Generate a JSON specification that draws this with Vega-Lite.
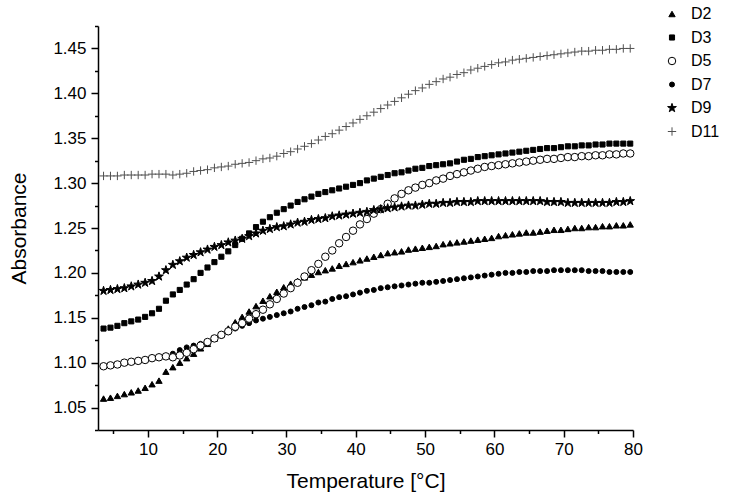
{
"$schema":"https://vega.github.io/schema/vega-lite/v6.json",
"width":535,"height":404,
"autosize":{"type":"none"},
"padding":{"left":98,"top":26,"right":100,"bottom":67},
"background":"white",
"config":{"view":{"stroke":null},"font":"Liberation Sans"},
"data":{"values":[
{"T":3.6,"S":"D2","A":1.060},{"T":4.6,"S":"D2","A":1.061},{"T":5.6,"S":"D2","A":1.063},{"T":6.6,"S":"D2","A":1.065},{"T":7.6,"S":"D2","A":1.067},{"T":8.6,"S":"D2","A":1.069},{"T":9.6,"S":"D2","A":1.072},{"T":10.6,"S":"D2","A":1.076},{"T":11.6,"S":"D2","A":1.080},{"T":12.6,"S":"D2","A":1.090},{"T":13.6,"S":"D2","A":1.095},{"T":14.6,"S":"D2","A":1.100},{"T":15.6,"S":"D2","A":1.105},{"T":16.6,"S":"D2","A":1.110},{"T":17.6,"S":"D2","A":1.116},{"T":18.6,"S":"D2","A":1.121},{"T":19.6,"S":"D2","A":1.127},{"T":20.6,"S":"D2","A":1.132},{"T":21.6,"S":"D2","A":1.138},{"T":22.6,"S":"D2","A":1.145},{"T":23.6,"S":"D2","A":1.151},{"T":24.6,"S":"D2","A":1.157},{"T":25.6,"S":"D2","A":1.163},{"T":26.6,"S":"D2","A":1.169},{"T":27.6,"S":"D2","A":1.174},{"T":28.6,"S":"D2","A":1.179},{"T":29.6,"S":"D2","A":1.184},{"T":30.6,"S":"D2","A":1.188},{"T":31.6,"S":"D2","A":1.191},{"T":32.6,"S":"D2","A":1.195},{"T":33.6,"S":"D2","A":1.198},{"T":34.6,"S":"D2","A":1.201},{"T":35.6,"S":"D2","A":1.203},{"T":36.6,"S":"D2","A":1.205},{"T":37.6,"S":"D2","A":1.208},{"T":38.6,"S":"D2","A":1.210},{"T":39.6,"S":"D2","A":1.212},{"T":40.6,"S":"D2","A":1.214},{"T":41.6,"S":"D2","A":1.216},{"T":42.6,"S":"D2","A":1.218},{"T":43.6,"S":"D2","A":1.220},{"T":44.6,"S":"D2","A":1.222},{"T":45.6,"S":"D2","A":1.223},{"T":46.6,"S":"D2","A":1.224},{"T":47.6,"S":"D2","A":1.226},{"T":48.6,"S":"D2","A":1.227},{"T":49.6,"S":"D2","A":1.228},{"T":50.6,"S":"D2","A":1.229},{"T":51.6,"S":"D2","A":1.230},{"T":52.6,"S":"D2","A":1.232},{"T":53.6,"S":"D2","A":1.233},{"T":54.6,"S":"D2","A":1.234},{"T":55.6,"S":"D2","A":1.235},{"T":56.6,"S":"D2","A":1.236},{"T":57.6,"S":"D2","A":1.237},{"T":58.6,"S":"D2","A":1.238},{"T":59.6,"S":"D2","A":1.239},{"T":60.6,"S":"D2","A":1.241},{"T":61.6,"S":"D2","A":1.242},{"T":62.6,"S":"D2","A":1.243},{"T":63.6,"S":"D2","A":1.244},{"T":64.6,"S":"D2","A":1.245},{"T":65.6,"S":"D2","A":1.245},{"T":66.6,"S":"D2","A":1.246},{"T":67.6,"S":"D2","A":1.247},{"T":68.6,"S":"D2","A":1.248},{"T":69.6,"S":"D2","A":1.248},{"T":70.6,"S":"D2","A":1.249},{"T":71.6,"S":"D2","A":1.250},{"T":72.6,"S":"D2","A":1.250},{"T":73.6,"S":"D2","A":1.251},{"T":74.6,"S":"D2","A":1.251},{"T":75.6,"S":"D2","A":1.252},{"T":76.6,"S":"D2","A":1.252},{"T":77.6,"S":"D2","A":1.253},{"T":78.6,"S":"D2","A":1.253},{"T":79.6,"S":"D2","A":1.254},
{"T":3.6,"S":"D3","A":1.138},{"T":4.6,"S":"D3","A":1.139},{"T":5.6,"S":"D3","A":1.141},{"T":6.6,"S":"D3","A":1.144},{"T":7.6,"S":"D3","A":1.146},{"T":8.6,"S":"D3","A":1.148},{"T":9.6,"S":"D3","A":1.151},{"T":10.6,"S":"D3","A":1.155},{"T":11.6,"S":"D3","A":1.160},{"T":12.6,"S":"D3","A":1.169},{"T":13.6,"S":"D3","A":1.176},{"T":14.6,"S":"D3","A":1.181},{"T":15.6,"S":"D3","A":1.187},{"T":16.6,"S":"D3","A":1.193},{"T":17.6,"S":"D3","A":1.200},{"T":18.6,"S":"D3","A":1.206},{"T":19.6,"S":"D3","A":1.212},{"T":20.6,"S":"D3","A":1.218},{"T":21.6,"S":"D3","A":1.224},{"T":22.6,"S":"D3","A":1.231},{"T":23.6,"S":"D3","A":1.238},{"T":24.6,"S":"D3","A":1.244},{"T":25.6,"S":"D3","A":1.251},{"T":26.6,"S":"D3","A":1.257},{"T":27.6,"S":"D3","A":1.262},{"T":28.6,"S":"D3","A":1.267},{"T":29.6,"S":"D3","A":1.271},{"T":30.6,"S":"D3","A":1.275},{"T":31.6,"S":"D3","A":1.279},{"T":32.6,"S":"D3","A":1.282},{"T":33.6,"S":"D3","A":1.285},{"T":34.6,"S":"D3","A":1.288},{"T":35.6,"S":"D3","A":1.290},{"T":36.6,"S":"D3","A":1.292},{"T":37.6,"S":"D3","A":1.294},{"T":38.6,"S":"D3","A":1.296},{"T":39.6,"S":"D3","A":1.298},{"T":40.6,"S":"D3","A":1.300},{"T":41.6,"S":"D3","A":1.303},{"T":42.6,"S":"D3","A":1.305},{"T":43.6,"S":"D3","A":1.307},{"T":44.6,"S":"D3","A":1.309},{"T":45.6,"S":"D3","A":1.311},{"T":46.6,"S":"D3","A":1.312},{"T":47.6,"S":"D3","A":1.314},{"T":48.6,"S":"D3","A":1.316},{"T":49.6,"S":"D3","A":1.317},{"T":50.6,"S":"D3","A":1.319},{"T":51.6,"S":"D3","A":1.320},{"T":52.6,"S":"D3","A":1.321},{"T":53.6,"S":"D3","A":1.322},{"T":54.6,"S":"D3","A":1.324},{"T":55.6,"S":"D3","A":1.326},{"T":56.6,"S":"D3","A":1.327},{"T":57.6,"S":"D3","A":1.329},{"T":58.6,"S":"D3","A":1.330},{"T":59.6,"S":"D3","A":1.331},{"T":60.6,"S":"D3","A":1.332},{"T":61.6,"S":"D3","A":1.333},{"T":62.6,"S":"D3","A":1.334},{"T":63.6,"S":"D3","A":1.335},{"T":64.6,"S":"D3","A":1.336},{"T":65.6,"S":"D3","A":1.337},{"T":66.6,"S":"D3","A":1.338},{"T":67.6,"S":"D3","A":1.339},{"T":68.6,"S":"D3","A":1.339},{"T":69.6,"S":"D3","A":1.340},{"T":70.6,"S":"D3","A":1.341},{"T":71.6,"S":"D3","A":1.341},{"T":72.6,"S":"D3","A":1.342},{"T":73.6,"S":"D3","A":1.342},{"T":74.6,"S":"D3","A":1.343},{"T":75.6,"S":"D3","A":1.343},{"T":76.6,"S":"D3","A":1.344},{"T":77.6,"S":"D3","A":1.344},{"T":78.6,"S":"D3","A":1.344},{"T":79.6,"S":"D3","A":1.344},
{"T":3.6,"S":"D7","A":1.096},{"T":4.6,"S":"D7","A":1.097},{"T":5.6,"S":"D7","A":1.098},{"T":6.6,"S":"D7","A":1.100},{"T":7.6,"S":"D7","A":1.101},{"T":8.6,"S":"D7","A":1.102},{"T":9.6,"S":"D7","A":1.103},{"T":10.6,"S":"D7","A":1.105},{"T":11.6,"S":"D7","A":1.106},{"T":12.6,"S":"D7","A":1.107},{"T":13.6,"S":"D7","A":1.110},{"T":14.6,"S":"D7","A":1.114},{"T":15.6,"S":"D7","A":1.117},{"T":16.6,"S":"D7","A":1.119},{"T":17.6,"S":"D7","A":1.121},{"T":18.6,"S":"D7","A":1.123},{"T":19.6,"S":"D7","A":1.127},{"T":20.6,"S":"D7","A":1.130},{"T":21.6,"S":"D7","A":1.134},{"T":22.6,"S":"D7","A":1.138},{"T":23.6,"S":"D7","A":1.141},{"T":24.6,"S":"D7","A":1.144},{"T":25.6,"S":"D7","A":1.147},{"T":26.6,"S":"D7","A":1.149},{"T":27.6,"S":"D7","A":1.151},{"T":28.6,"S":"D7","A":1.153},{"T":29.6,"S":"D7","A":1.155},{"T":30.6,"S":"D7","A":1.157},{"T":31.6,"S":"D7","A":1.160},{"T":32.6,"S":"D7","A":1.162},{"T":33.6,"S":"D7","A":1.164},{"T":34.6,"S":"D7","A":1.167},{"T":35.6,"S":"D7","A":1.168},{"T":36.6,"S":"D7","A":1.171},{"T":37.6,"S":"D7","A":1.173},{"T":38.6,"S":"D7","A":1.174},{"T":39.6,"S":"D7","A":1.176},{"T":40.6,"S":"D7","A":1.178},{"T":41.6,"S":"D7","A":1.180},{"T":42.6,"S":"D7","A":1.181},{"T":43.6,"S":"D7","A":1.183},{"T":44.6,"S":"D7","A":1.184},{"T":45.6,"S":"D7","A":1.185},{"T":46.6,"S":"D7","A":1.186},{"T":47.6,"S":"D7","A":1.187},{"T":48.6,"S":"D7","A":1.188},{"T":49.6,"S":"D7","A":1.189},{"T":50.6,"S":"D7","A":1.189},{"T":51.6,"S":"D7","A":1.190},{"T":52.6,"S":"D7","A":1.191},{"T":53.6,"S":"D7","A":1.192},{"T":54.6,"S":"D7","A":1.193},{"T":55.6,"S":"D7","A":1.194},{"T":56.6,"S":"D7","A":1.195},{"T":57.6,"S":"D7","A":1.196},{"T":58.6,"S":"D7","A":1.197},{"T":59.6,"S":"D7","A":1.198},{"T":60.6,"S":"D7","A":1.199},{"T":61.6,"S":"D7","A":1.200},{"T":62.6,"S":"D7","A":1.200},{"T":63.6,"S":"D7","A":1.201},{"T":64.6,"S":"D7","A":1.201},{"T":65.6,"S":"D7","A":1.202},{"T":66.6,"S":"D7","A":1.202},{"T":67.6,"S":"D7","A":1.202},{"T":68.6,"S":"D7","A":1.203},{"T":69.6,"S":"D7","A":1.203},{"T":70.6,"S":"D7","A":1.203},{"T":71.6,"S":"D7","A":1.203},{"T":72.6,"S":"D7","A":1.203},{"T":73.6,"S":"D7","A":1.202},{"T":74.6,"S":"D7","A":1.202},{"T":75.6,"S":"D7","A":1.202},{"T":76.6,"S":"D7","A":1.201},{"T":77.6,"S":"D7","A":1.201},{"T":78.6,"S":"D7","A":1.201},{"T":79.6,"S":"D7","A":1.201},
{"T":3.6,"S":"D5","A":1.096},{"T":4.6,"S":"D5","A":1.097},{"T":5.6,"S":"D5","A":1.098},{"T":6.6,"S":"D5","A":1.100},{"T":7.6,"S":"D5","A":1.101},{"T":8.6,"S":"D5","A":1.102},{"T":9.6,"S":"D5","A":1.103},{"T":10.6,"S":"D5","A":1.105},{"T":11.6,"S":"D5","A":1.106},{"T":12.6,"S":"D5","A":1.107},{"T":13.6,"S":"D5","A":1.106},{"T":14.6,"S":"D5","A":1.108},{"T":15.6,"S":"D5","A":1.111},{"T":16.6,"S":"D5","A":1.115},{"T":17.6,"S":"D5","A":1.119},{"T":18.6,"S":"D5","A":1.123},{"T":19.6,"S":"D5","A":1.127},{"T":20.6,"S":"D5","A":1.131},{"T":21.6,"S":"D5","A":1.135},{"T":22.6,"S":"D5","A":1.140},{"T":23.6,"S":"D5","A":1.144},{"T":24.6,"S":"D5","A":1.149},{"T":25.6,"S":"D5","A":1.154},{"T":26.6,"S":"D5","A":1.159},{"T":27.6,"S":"D5","A":1.165},{"T":28.6,"S":"D5","A":1.171},{"T":29.6,"S":"D5","A":1.177},{"T":30.6,"S":"D5","A":1.183},{"T":31.6,"S":"D5","A":1.189},{"T":32.6,"S":"D5","A":1.196},{"T":33.6,"S":"D5","A":1.203},{"T":34.6,"S":"D5","A":1.210},{"T":35.6,"S":"D5","A":1.218},{"T":36.6,"S":"D5","A":1.225},{"T":37.6,"S":"D5","A":1.233},{"T":38.6,"S":"D5","A":1.240},{"T":39.6,"S":"D5","A":1.247},{"T":40.6,"S":"D5","A":1.254},{"T":41.6,"S":"D5","A":1.260},{"T":42.6,"S":"D5","A":1.266},{"T":43.6,"S":"D5","A":1.271},{"T":44.6,"S":"D5","A":1.277},{"T":45.6,"S":"D5","A":1.283},{"T":46.6,"S":"D5","A":1.288},{"T":47.6,"S":"D5","A":1.292},{"T":48.6,"S":"D5","A":1.295},{"T":49.6,"S":"D5","A":1.298},{"T":50.6,"S":"D5","A":1.300},{"T":51.6,"S":"D5","A":1.303},{"T":52.6,"S":"D5","A":1.305},{"T":53.6,"S":"D5","A":1.308},{"T":54.6,"S":"D5","A":1.310},{"T":55.6,"S":"D5","A":1.312},{"T":56.6,"S":"D5","A":1.314},{"T":57.6,"S":"D5","A":1.316},{"T":58.6,"S":"D5","A":1.318},{"T":59.6,"S":"D5","A":1.319},{"T":60.6,"S":"D5","A":1.320},{"T":61.6,"S":"D5","A":1.321},{"T":62.6,"S":"D5","A":1.322},{"T":63.6,"S":"D5","A":1.323},{"T":64.6,"S":"D5","A":1.324},{"T":65.6,"S":"D5","A":1.325},{"T":66.6,"S":"D5","A":1.326},{"T":67.6,"S":"D5","A":1.327},{"T":68.6,"S":"D5","A":1.327},{"T":69.6,"S":"D5","A":1.328},{"T":70.6,"S":"D5","A":1.329},{"T":71.6,"S":"D5","A":1.329},{"T":72.6,"S":"D5","A":1.330},{"T":73.6,"S":"D5","A":1.330},{"T":74.6,"S":"D5","A":1.331},{"T":75.6,"S":"D5","A":1.331},{"T":76.6,"S":"D5","A":1.332},{"T":77.6,"S":"D5","A":1.332},{"T":78.6,"S":"D5","A":1.333},{"T":79.6,"S":"D5","A":1.333},
{"T":3.6,"S":"D9","A":1.180},{"T":4.6,"S":"D9","A":1.181},{"T":5.6,"S":"D9","A":1.182},{"T":6.6,"S":"D9","A":1.183},{"T":7.6,"S":"D9","A":1.185},{"T":8.6,"S":"D9","A":1.187},{"T":9.6,"S":"D9","A":1.189},{"T":10.6,"S":"D9","A":1.191},{"T":11.6,"S":"D9","A":1.196},{"T":12.6,"S":"D9","A":1.203},{"T":13.6,"S":"D9","A":1.209},{"T":14.6,"S":"D9","A":1.213},{"T":15.6,"S":"D9","A":1.217},{"T":16.6,"S":"D9","A":1.220},{"T":17.6,"S":"D9","A":1.223},{"T":18.6,"S":"D9","A":1.226},{"T":19.6,"S":"D9","A":1.229},{"T":20.6,"S":"D9","A":1.231},{"T":21.6,"S":"D9","A":1.234},{"T":22.6,"S":"D9","A":1.236},{"T":23.6,"S":"D9","A":1.238},{"T":24.6,"S":"D9","A":1.241},{"T":25.6,"S":"D9","A":1.244},{"T":26.6,"S":"D9","A":1.247},{"T":27.6,"S":"D9","A":1.249},{"T":28.6,"S":"D9","A":1.251},{"T":29.6,"S":"D9","A":1.252},{"T":30.6,"S":"D9","A":1.254},{"T":31.6,"S":"D9","A":1.256},{"T":32.6,"S":"D9","A":1.257},{"T":33.6,"S":"D9","A":1.259},{"T":34.6,"S":"D9","A":1.260},{"T":35.6,"S":"D9","A":1.261},{"T":36.6,"S":"D9","A":1.263},{"T":37.6,"S":"D9","A":1.264},{"T":38.6,"S":"D9","A":1.265},{"T":39.6,"S":"D9","A":1.266},{"T":40.6,"S":"D9","A":1.267},{"T":41.6,"S":"D9","A":1.268},{"T":42.6,"S":"D9","A":1.270},{"T":43.6,"S":"D9","A":1.271},{"T":44.6,"S":"D9","A":1.272},{"T":45.6,"S":"D9","A":1.273},{"T":46.6,"S":"D9","A":1.274},{"T":47.6,"S":"D9","A":1.275},{"T":48.6,"S":"D9","A":1.275},{"T":49.6,"S":"D9","A":1.276},{"T":50.6,"S":"D9","A":1.277},{"T":51.6,"S":"D9","A":1.277},{"T":52.6,"S":"D9","A":1.278},{"T":53.6,"S":"D9","A":1.278},{"T":54.6,"S":"D9","A":1.279},{"T":55.6,"S":"D9","A":1.279},{"T":56.6,"S":"D9","A":1.279},{"T":57.6,"S":"D9","A":1.280},{"T":58.6,"S":"D9","A":1.280},{"T":59.6,"S":"D9","A":1.280},{"T":60.6,"S":"D9","A":1.280},{"T":61.6,"S":"D9","A":1.280},{"T":62.6,"S":"D9","A":1.280},{"T":63.6,"S":"D9","A":1.280},{"T":64.6,"S":"D9","A":1.280},{"T":65.6,"S":"D9","A":1.280},{"T":66.6,"S":"D9","A":1.280},{"T":67.6,"S":"D9","A":1.279},{"T":68.6,"S":"D9","A":1.279},{"T":69.6,"S":"D9","A":1.279},{"T":70.6,"S":"D9","A":1.278},{"T":71.6,"S":"D9","A":1.278},{"T":72.6,"S":"D9","A":1.278},{"T":73.6,"S":"D9","A":1.278},{"T":74.6,"S":"D9","A":1.278},{"T":75.6,"S":"D9","A":1.278},{"T":76.6,"S":"D9","A":1.278},{"T":77.6,"S":"D9","A":1.279},{"T":78.6,"S":"D9","A":1.279},{"T":79.6,"S":"D9","A":1.280},
{"T":3.6,"S":"D11","A":1.308},{"T":4.6,"S":"D11","A":1.308},{"T":5.6,"S":"D11","A":1.308},{"T":6.6,"S":"D11","A":1.309},{"T":7.6,"S":"D11","A":1.309},{"T":8.6,"S":"D11","A":1.309},{"T":9.6,"S":"D11","A":1.309},{"T":10.6,"S":"D11","A":1.310},{"T":11.6,"S":"D11","A":1.310},{"T":12.6,"S":"D11","A":1.310},{"T":13.6,"S":"D11","A":1.309},{"T":14.6,"S":"D11","A":1.310},{"T":15.6,"S":"D11","A":1.311},{"T":16.6,"S":"D11","A":1.313},{"T":17.6,"S":"D11","A":1.314},{"T":18.6,"S":"D11","A":1.315},{"T":19.6,"S":"D11","A":1.317},{"T":20.6,"S":"D11","A":1.318},{"T":21.6,"S":"D11","A":1.319},{"T":22.6,"S":"D11","A":1.321},{"T":23.6,"S":"D11","A":1.322},{"T":24.6,"S":"D11","A":1.323},{"T":25.6,"S":"D11","A":1.325},{"T":26.6,"S":"D11","A":1.327},{"T":27.6,"S":"D11","A":1.328},{"T":28.6,"S":"D11","A":1.330},{"T":29.6,"S":"D11","A":1.333},{"T":30.6,"S":"D11","A":1.335},{"T":31.6,"S":"D11","A":1.338},{"T":32.6,"S":"D11","A":1.341},{"T":33.6,"S":"D11","A":1.344},{"T":34.6,"S":"D11","A":1.348},{"T":35.6,"S":"D11","A":1.352},{"T":36.6,"S":"D11","A":1.355},{"T":37.6,"S":"D11","A":1.359},{"T":38.6,"S":"D11","A":1.363},{"T":39.6,"S":"D11","A":1.367},{"T":40.6,"S":"D11","A":1.371},{"T":41.6,"S":"D11","A":1.375},{"T":42.6,"S":"D11","A":1.379},{"T":43.6,"S":"D11","A":1.383},{"T":44.6,"S":"D11","A":1.387},{"T":45.6,"S":"D11","A":1.391},{"T":46.6,"S":"D11","A":1.395},{"T":47.6,"S":"D11","A":1.399},{"T":48.6,"S":"D11","A":1.403},{"T":49.6,"S":"D11","A":1.406},{"T":50.6,"S":"D11","A":1.410},{"T":51.6,"S":"D11","A":1.413},{"T":52.6,"S":"D11","A":1.416},{"T":53.6,"S":"D11","A":1.418},{"T":54.6,"S":"D11","A":1.421},{"T":55.6,"S":"D11","A":1.423},{"T":56.6,"S":"D11","A":1.426},{"T":57.6,"S":"D11","A":1.428},{"T":58.6,"S":"D11","A":1.430},{"T":59.6,"S":"D11","A":1.432},{"T":60.6,"S":"D11","A":1.434},{"T":61.6,"S":"D11","A":1.435},{"T":62.6,"S":"D11","A":1.437},{"T":63.6,"S":"D11","A":1.438},{"T":64.6,"S":"D11","A":1.439},{"T":65.6,"S":"D11","A":1.440},{"T":66.6,"S":"D11","A":1.441},{"T":67.6,"S":"D11","A":1.442},{"T":68.6,"S":"D11","A":1.443},{"T":69.6,"S":"D11","A":1.444},{"T":70.6,"S":"D11","A":1.445},{"T":71.6,"S":"D11","A":1.446},{"T":72.6,"S":"D11","A":1.447},{"T":73.6,"S":"D11","A":1.447},{"T":74.6,"S":"D11","A":1.448},{"T":75.6,"S":"D11","A":1.448},{"T":76.6,"S":"D11","A":1.449},{"T":77.6,"S":"D11","A":1.449},{"T":78.6,"S":"D11","A":1.450},{"T":79.6,"S":"D11","A":1.450}
]},
"mark":{"type":"point","opacity":1,"strokeWidth":1},
"encoding":{
"x":{"field":"T","type":"quantitative","scale":{"domain":[2.8,80],"nice":false,"zero":false},
"axis":{"title":"Temperature [°C]","values":[5,10,15,20,25,30,35,40,45,50,55,60,65,70,75,80],"labelExpr":"datum.value % 10 === 0 ? datum.label : ''","grid":false,"domainColor":"black","domainWidth":1.5,"tickColor":"black","tickWidth":1.5,"tickSize":{"condition":{"test":"datum.value % 10 === 0","value":7},"value":3.5},"labelFontSize":17,"labelColor":"black","labelFont":"Liberation Sans","labelPadding":4,"labelFlush":false,"labelOverlap":false,"titleFont":"Liberation Sans","titleFontSize":21,"titleFontWeight":"normal","titleColor":"black","titlePadding":13}},
"y":{"field":"A","type":"quantitative","scale":{"domain":[1.025,1.475],"nice":false,"zero":false},
"axis":{"title":"Absorbance","values":[1.025,1.05,1.075,1.1,1.125,1.15,1.175,1.2,1.225,1.25,1.275,1.3,1.325,1.35,1.375,1.4,1.425,1.45,1.475],"labelExpr":"round(datum.value*1000) % 50 === 0 ? format(datum.value, '.2f') : ''","grid":false,"domainColor":"black","domainWidth":1.5,"tickColor":"black","tickWidth":1.5,"tickSize":{"condition":{"test":"round(datum.value*1000) % 50 === 0","value":7},"value":3.5},"labelFontSize":17,"labelColor":"black","labelFont":"Liberation Sans","labelPadding":5,"labelOverlap":false,"labelFlush":false,"titleFont":"Liberation Sans","titleFontSize":21,"titleFontWeight":"normal","titleColor":"black","titlePadding":23}},
"shape":{"field":"S","type":"nominal","scale":{"domain":["D2","D3","D5","D7","D9","D11"],"range":["triangle-up","square","circle","circle","M0,-1L0.225,-0.309L0.951,-0.309L0.363,0.118L0.588,0.809L0,0.382L-0.588,0.809L-0.363,0.118L-0.951,-0.309L-0.225,-0.309Z","M-1,0H1M0,-1V1"]},
"legend":{"title":null,"orient":"none","legendX":566,"legendY":-20,"padding":0,"labelFontSize":16,"labelFont":"Liberation Sans","labelColor":"black","rowPadding":7.5,"labelOffset":11,"symbolStrokeWidth":1}},
"fill":{"field":"S","type":"nominal","scale":{"domain":["D2","D3","D5","D7","D9","D11"],"range":["black","black","white","black","black","transparent"]},
"legend":{"title":null,"orient":"none","legendX":566,"legendY":-20,"padding":0,"labelFontSize":16,"labelFont":"Liberation Sans","labelColor":"black","rowPadding":7.5,"labelOffset":11,"symbolStrokeWidth":1}},
"stroke":{"field":"S","type":"nominal","scale":{"domain":["D2","D3","D5","D7","D9","D11"],"range":["black","black","black","black","black","#505050"]},
"legend":{"title":null,"orient":"none","legendX":566,"legendY":-20,"padding":0,"labelFontSize":16,"labelFont":"Liberation Sans","labelColor":"black","rowPadding":7.5,"labelOffset":11,"symbolStrokeWidth":1}},
"size":{"field":"S","type":"nominal","scale":{"type":"ordinal","domain":["D2","D3","D5","D7","D9","D11"],"range":[40,26,56,25,85,70]},
"legend":{"title":null,"orient":"none","legendX":566,"legendY":-20,"padding":0,"labelFontSize":16,"labelFont":"Liberation Sans","labelColor":"black","rowPadding":7.5,"labelOffset":11,"symbolStrokeWidth":1}}
}
}
